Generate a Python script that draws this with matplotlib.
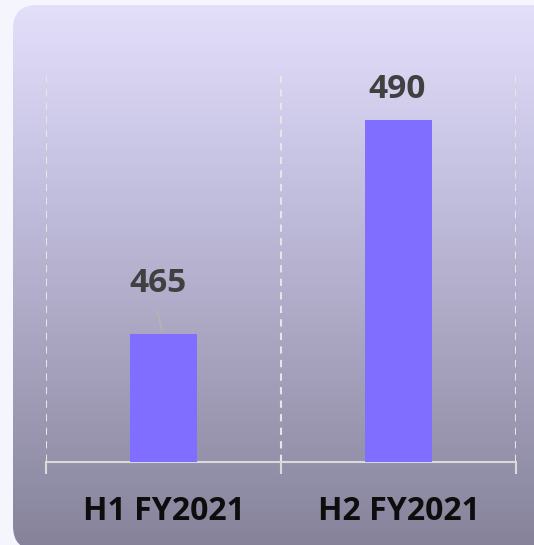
import matplotlib.pyplot as plt
import numpy as np
from matplotlib.patches import FancyBboxPatch
from matplotlib.colors import LinearSegmentedColormap

categories = ['H1 FY2021', 'H2 FY2021']
values = [465, 490]
label_offsets_px = [50, 30]   # how far each value label sits above its bar
label_dx_px = [-6, -1]

plt.rcParams['font.family'] = ['Open Sans', 'DejaVu Sans']

W, H = 534, 545
fig = plt.figure(figsize=(W / 100, H / 100), dpi=100)
fig.patch.set_facecolor('#f5f5fd')

# rounded panel with a vertical gradient
bg = fig.add_axes([0, 0, 1, 1])
bg.set_xlim(0, W)
bg.set_ylim(H, 0)
bg.axis('off')
cmap = LinearSegmentedColormap.from_list('panel', ['#e3dffb', '#c3bfdf', '#a5a1bc', '#85829a'])
grad = np.linspace(0, 1, 256).reshape(-1, 1)
panel = FancyBboxPatch((13, 5), 545, 545, boxstyle='round,pad=0,rounding_size=24',
                       transform=bg.transData, facecolor='none', edgecolor='none')
bg.add_patch(panel)
im = bg.imshow(grad, cmap=cmap, aspect='auto', extent=[13, 558, 550, 5], zorder=0)
im.set_clip_path(panel)

# chart area
ax = fig.add_axes([46 / W, 1 - 462 / H, (516 - 46) / W, (462 - 75) / H])
ax.patch.set_alpha(0)
x = np.arange(len(categories))
ax.bar(x, values, width=0.285, bottom=0, color='#7f6eff', zorder=3)
ax.set_xlim(-0.5, len(categories) - 0.5)
ax.set_ylim(450, 495.2)

for s in ['top', 'right', 'left']:
    ax.spines[s].set_visible(False)
ax.spines['bottom'].set_color('#dadada')
ax.spines['bottom'].set_linewidth(1.5)
ax.set_yticks([])
bounds = np.arange(len(categories) + 1) - 0.5
ax.set_xticks(bounds)
ax.set_xticklabels([])
ax.tick_params(axis='x', length=8.5, width=1.5, color='#dadada', direction='out')
for b in bounds:
    ax.axvline(b, color='#e6e6e6', lw=1.5, ls=(0, (3.5, 3)), zorder=1)

pt = 72 / 100
for i, (cat, v) in enumerate(zip(categories, values)):
    ax.annotate(cat, xy=(i, 0), xycoords=('data', 'axes fraction'),
                xytext=(0, -49 * pt), textcoords='offset points',
                ha='center', va='center', fontsize=23, fontweight='bold', color='#0d0d0d')
    ax.annotate(str(v), xy=(i, v), xytext=(label_dx_px[i] * pt, label_offsets_px[i] * pt),
                textcoords='offset points', ha='center', va='center',
                fontsize=24, fontweight='bold', color='#404040')

# leader line for the first label
ax.annotate('', xy=(0 - 0.004, values[0]), xytext=(-1 * 0.0255 - 0.004, values[0] + 27 / 8.56),
            arrowprops=dict(arrowstyle='-', color='#b4b4b4', lw=1.3))

fig.savefig('out.png', dpi=100, facecolor=fig.get_facecolor())
